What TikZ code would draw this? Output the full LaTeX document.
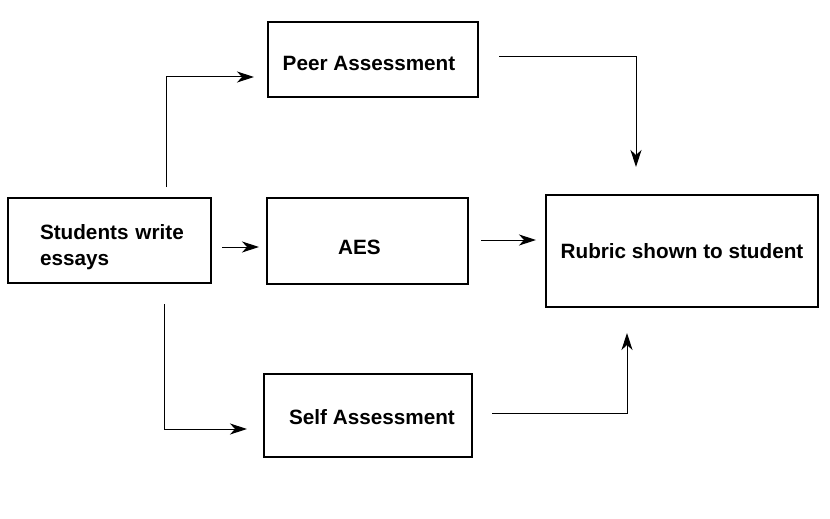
\documentclass[tikz,border=0pt]{standalone}
\usepackage{fontspec}
\setmainfont{Liberation Sans}
\usepackage{tikz}
\usetikzlibrary{positioning,arrows.meta}

\tikzset{
  stagebox/.style={draw, line width=1.2pt, inner sep=0pt, font=\bfseries\fontsize{20.7}{26}\selectfont},
  flowarr/.style={line width=1pt, -{Stealth[length=17pt,width=11pt,inset=5pt]}}
}

\begin{document}
\begin{tikzpicture}[x=1pt,y=-1pt]
\useasboundingbox (0,0) rectangle (830,519);
% boxes
\node[stagebox, minimum width=203pt, minimum height=85pt, text width=152pt, align=left] (students) at (109.5,240.5) {\rule{0pt}{29pt}\hspace*{6.5pt}Students write\\\hspace*{6.5pt}essays};
\node[stagebox, minimum width=210pt, minimum height=75pt, text height=22pt, text depth=0pt] (peer) at (373,59.5) {Peer Assessment\hspace*{8pt}};
\node[stagebox, minimum width=201pt, minimum height=86pt, text height=27pt, text depth=0pt] (aes) at (367.5,241) {AES\hspace*{16pt}};
\node[stagebox, minimum width=208pt, minimum height=83pt, text height=18pt, text depth=0pt] (self) at (368,415.5) {\hspace*{8pt}Self Assessment};
\node[stagebox, line width=2pt, minimum width=272pt, minimum height=112pt] (rubric) at (682,251) {Rubric shown to student};
% connector ends
\coordinate (peer out) at (166,187);
\coordinate (peer in) at (254,77);
\coordinate (aes out) at (222,247);
\coordinate (aes in) at (259,247);
\coordinate (self out) at (164,304);
\coordinate (self in) at (247,429);
\coordinate (rub left out) at (481,240);
\coordinate (rub left in) at (536,240);
\coordinate (rub top out) at (499,57);
\coordinate (rub top in) at (636,167);
\coordinate (rub bot out) at (492,413);
\coordinate (rub bot in) at (627,333);
% connectors
\draw[flowarr] (peer out) |- (peer in);
\draw[flowarr] (aes out) -- (aes in);
\draw[flowarr] (self out) |- (self in);
\draw[flowarr] (rub left out) -- (rub left in);
\draw[flowarr] (rub top out) -| (rub top in);
\draw[flowarr] (rub bot out) -| (rub bot in);
\end{tikzpicture}
\end{document}
